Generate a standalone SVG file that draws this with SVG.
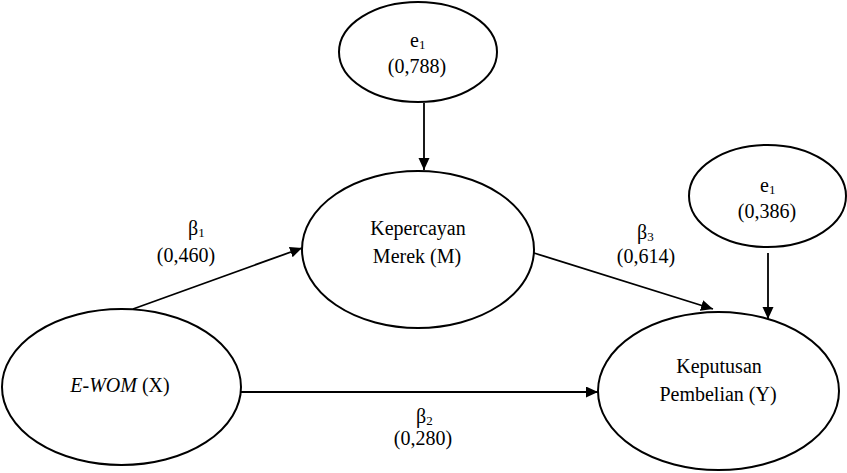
<svg xmlns="http://www.w3.org/2000/svg" width="847" height="473" viewBox="0 0 847 473">
<style>
.node{fill:#fff;stroke:#000;stroke-width:2}
.conn{stroke:#000;stroke-width:1.8;fill:none}
.t{font-family:'Liberation Serif','DejaVu Serif',serif;font-size:20px;fill:#000}
.mid{text-anchor:middle}
.sub{font-size:13px}
</style>
<defs>
<marker id="arr" markerUnits="userSpaceOnUse" markerWidth="13" markerHeight="12" refX="12" refY="5.5" orient="auto">
<path d="M0,0 L12,5.5 L0,11 z" fill="#000"/>
</marker>
</defs>
<rect width="847" height="473" fill="#fff"/>
<g id="connectors">
<line class="conn" x1="424" y1="103" x2="424" y2="170" marker-end="url(#arr)"/>
<line class="conn" x1="768" y1="253" x2="768" y2="319" marker-end="url(#arr)"/>
<line class="conn" x1="133" y1="309" x2="302" y2="248" marker-end="url(#arr)"/>
<line class="conn" x1="534" y1="253" x2="713" y2="309" marker-end="url(#arr)"/>
<line class="conn" x1="241" y1="392" x2="598" y2="392" marker-end="url(#arr)"/>
</g>
<g id="e1-top">
<ellipse class="node" cx="418" cy="52" rx="79" ry="50"/>
<text class="t" font-family="Liberation Serif" x="410" y="47">e<tspan class="sub" dy="2">1</tspan></text>
<text class="t mid" font-family="Liberation Serif" x="417" y="73">(0,788)</text>
</g>
<g id="e1-right">
<ellipse class="node" cx="767.5" cy="196" rx="78.5" ry="51"/>
<text class="t" font-family="Liberation Serif" x="760" y="192">e<tspan class="sub" dy="2">1</tspan></text>
<text class="t mid" font-family="Liberation Serif" x="767" y="218">(0,386)</text>
</g>
<g id="kepercayan">
<ellipse class="node" cx="418" cy="249.5" rx="116" ry="78.5"/>
<text class="t mid" font-family="Liberation Serif" x="418" y="235">Kepercayan</text>
<text class="t mid" font-family="Liberation Serif" x="417" y="263">Merek (M)</text>
</g>
<g id="ewom">
<ellipse class="node" cx="121.5" cy="387" rx="119.5" ry="78"/>
<text class="t mid" font-family="Liberation Serif" x="120" y="392"><tspan font-style="italic">E-WOM</tspan> (X)</text>
</g>
<g id="keputusan">
<ellipse class="node" cx="718.5" cy="391" rx="120.5" ry="79"/>
<text class="t mid" font-family="Liberation Serif" x="719" y="373">Keputusan</text>
<text class="t mid" font-family="Liberation Serif" x="718" y="401">Pembelian (Y)</text>
</g>
<g id="labels">
<text class="t" font-family="Liberation Serif" x="188" y="235">β<tspan class="sub" dy="2">1</tspan></text>
<text class="t mid" font-family="Liberation Serif" x="186" y="262">(0,460)</text>
<text class="t" font-family="Liberation Serif" x="416" y="423">β<tspan class="sub" dy="2">2</tspan></text>
<text class="t mid" font-family="Liberation Serif" x="423" y="445">(0,280)</text>
<text class="t" font-family="Liberation Serif" x="637" y="239">β<tspan class="sub" dy="2">3</tspan></text>
<text class="t mid" font-family="Liberation Serif" x="646" y="263">(0,614)</text>
</g>
</svg>
